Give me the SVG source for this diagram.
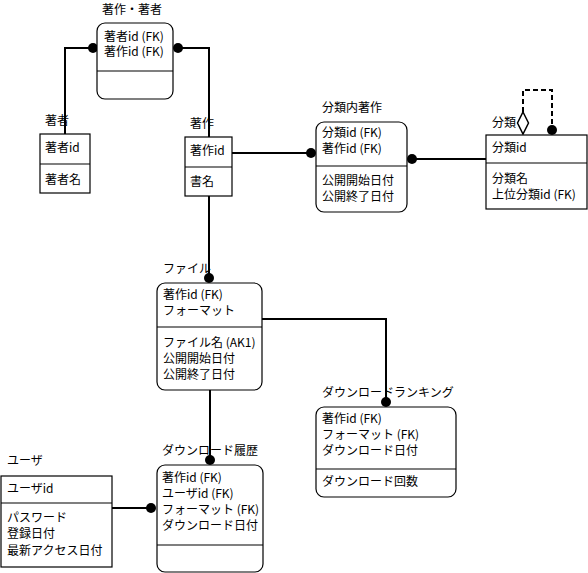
<svg xmlns="http://www.w3.org/2000/svg" width="588" height="573" viewBox="0 0 588 573">
<style>
text{font-family:"Noto Sans CJK JP","Noto Sans",sans-serif;font-size:12px;fill:#000}
.box{fill:#fff;stroke:#000;stroke-width:1.2}
.div{stroke:#000;stroke-width:1.2}
.ln{fill:none;stroke:#000;stroke-width:2}
.dash{fill:none;stroke:#000;stroke-width:2;stroke-dasharray:5,3}
.dot{fill:#000}
</style>
<rect width="588" height="573" fill="#fff"/>
<g id="connectors">
<path class="ln" d="M93,48H65V134"/>
<circle class="dot" cx="93" cy="48" r="5"/>
<path class="ln" d="M178,48H209V137"/>
<circle class="dot" cx="178" cy="48" r="5"/>
<path class="ln" d="M232,153H311"/>
<circle class="dot" cx="311" cy="153" r="5"/>
<path class="ln" d="M209,196V278"/>
<circle class="dot" cx="209" cy="278" r="5"/>
<path class="ln" d="M412,159H486"/>
<circle class="dot" cx="412" cy="159" r="5"/>
<path class="ln" d="M262,319H386V402"/>
<circle class="dot" cx="386" cy="402" r="5"/>
<path class="ln" d="M210,390V460"/>
<circle class="dot" cx="210" cy="460" r="5"/>
<path class="ln" d="M112,508H151"/>
<circle class="dot" cx="151" cy="508" r="5"/>
<path class="dash" d="M523,112V90H552V130"/>
<circle class="dot" cx="552" cy="130" r="5"/>
<polygon points="523,112 528.5,123 523,134 517.5,123" fill="#fff" stroke="#000" stroke-width="1.5"/>
</g>
<g id="chosaku_chosha">
<text x="132" y="14" text-anchor="middle">著作・著者</text>
<rect class="box" x="97" y="23" width="76" height="76" rx="8"/>
<line class="div" x1="97" y1="71" x2="173" y2="71"/>
<text x="104" y="41">著者id (FK)</text>
<text x="104" y="56">著作id (FK)</text>
</g>
<g id="chosha">
<text x="45" y="125">著者</text>
<rect class="box" x="40" y="134" width="50" height="59"/>
<line class="div" x1="40" y1="164" x2="90" y2="164"/>
<text x="45" y="152">著者id</text>
<text x="45" y="184">著者名</text>
</g>
<g id="chosaku">
<text x="190" y="128">著作</text>
<rect class="box" x="185" y="137" width="47" height="59"/>
<line class="div" x1="185" y1="167" x2="232" y2="167"/>
<text x="190" y="155">著作id</text>
<text x="190" y="186">書名</text>
</g>
<g id="bunrui_nai_chosaku">
<text x="322" y="112">分類内著作</text>
<rect class="box" x="316" y="122" width="91" height="90" rx="8"/>
<line class="div" x1="316" y1="166" x2="407" y2="166"/>
<text x="322" y="137">分類id (FK)</text>
<text x="322" y="153">著作id (FK)</text>
<text x="322" y="185">公開開始日付</text>
<text x="322" y="201">公開終了日付</text>
</g>
<g id="bunrui">
<text x="492" y="127">分類</text>
<rect class="box" x="486" y="135" width="101" height="74"/>
<line class="div" x1="486" y1="163" x2="587" y2="163"/>
<text x="492" y="152">分類id</text>
<text x="492" y="183">分類名</text>
<text x="492" y="199">上位分類id (FK)</text>
</g>
<g id="file">
<text x="163" y="273">ファイル</text>
<rect class="box" x="157" y="283" width="105" height="107" rx="8"/>
<line class="div" x1="157" y1="327" x2="262" y2="327"/>
<text x="163" y="299">著作id (FK)</text>
<text x="163" y="315">フォーマット</text>
<text x="163" y="347">ファイル名 (AK1)</text>
<text x="163" y="363">公開開始日付</text>
<text x="163" y="379">公開終了日付</text>
</g>
<g id="download_ranking">
<text x="322" y="397">ダウンロードランキング</text>
<rect class="box" x="316" y="407" width="140" height="90" rx="8"/>
<line class="div" x1="316" y1="469" x2="456" y2="469"/>
<text x="322" y="423">著作id (FK)</text>
<text x="322" y="439">フォーマット (FK)</text>
<text x="322" y="455">ダウンロード日付</text>
<text x="322" y="486">ダウンロード回数</text>
</g>
<g id="download_rireki">
<text x="162" y="455">ダウンロード履歴</text>
<rect class="box" x="157" y="465" width="106" height="107" rx="8"/>
<line class="div" x1="157" y1="545" x2="263" y2="545"/>
<text x="162" y="482">著作id (FK)</text>
<text x="162" y="498">ユーザid (FK)</text>
<text x="162" y="514">フォーマット (FK)</text>
<text x="162" y="530">ダウンロード日付</text>
</g>
<g id="user">
<text x="7" y="465">ユーザ</text>
<rect class="box" x="1" y="476" width="111" height="91"/>
<line class="div" x1="1" y1="503" x2="112" y2="503"/>
<text x="7" y="493">ユーザid</text>
<text x="7" y="522">パスワード</text>
<text x="7" y="538">登録日付</text>
<text x="7" y="555">最新アクセス日付</text>
</g>
</svg>
